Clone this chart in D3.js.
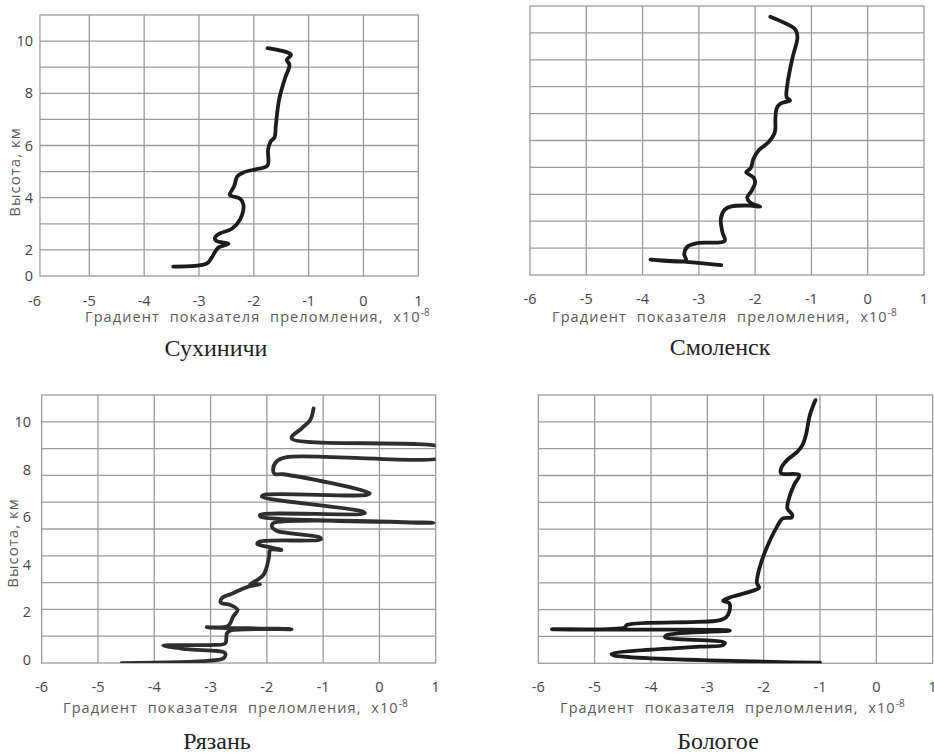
<!DOCTYPE html>
<html>
<head>
<meta charset="utf-8">
<script src="https://cdn.jsdelivr.net/npm/d3@7"></script>
<style>
  body { margin: 0; background: #fff; }
  svg { display: block; }
  .tick { font-family: 'Open Sans', sans-serif; font-size: 14.5px; fill: #454545; }
  .title { font-family: 'Open Sans', sans-serif; font-size: 14.5px; fill: #5a5a5a; letter-spacing: 1.1px; }
  .ytitle { font-family: 'Open Sans', sans-serif; font-size: 15px; fill: #5a5a5a; letter-spacing: 1px; }
  .caption { font-family: 'Liberation Serif', 'Times New Roman', serif; font-size: 24px; fill: #222; }
</style>
</head>
<body>
<svg width="934" height="754"></svg>
<script>
// x ticks, same on all four panels
const xTicks = [-6, -5, -4, -3, -2, -1, 0, 1]

// y tick labels (left column only)
const yTicksTop = [1, 2, 4, 6, 8, 10]
const yLabelsTop = ['0', '2', '4', '6', '8', '10']
const yTicksBottom = [0, 2, 4, 6, 8, 10]
const yLabelsBottom = ['0', '2', '4', '6', '8', '10']

// Сухиничи
const sukhGrad = [-3.47, -2.86, -2.77, -2.65, -2.46, -2.68, -2.71, -2.62, -2.40, -2.25, -2.19, -2.25, -2.40, -2.44, -2.36,
  -2.30, -2.19, -1.94, -1.75, -1.74, -1.69, -1.62, -1.60, -1.54, -1.44, -1.35, -1.40, -1.32, -1.38, -1.75]
const sukhHeight = [1.36, 1.48, 1.70, 2.08, 2.24, 2.34, 2.46, 2.63, 2.81, 3.17, 3.74, 3.96, 4.06, 4.11, 4.44,
  4.82, 4.97, 5.10, 5.23, 5.84, 6.16, 6.32, 6.73, 7.75, 8.52, 9.09, 9.28, 9.47, 9.56, 9.73]

// Смоленск
const smolGrad = [-2.60, -3.23, -3.86, -3.23, -3.26, -3.20, -3.02, -2.54, -2.58, -2.61, -2.54, -2.42, -2.09, -1.91, -2.09,
  -2.14, -2.06, -2.00, -2.03, -2.16, -2.08, -2.03, -1.94, -1.76, -1.65, -1.64, -1.62, -1.55, -1.38, -1.44,
  -1.43, -1.34, -1.25, -1.26, -1.30, -1.73]
const smolHeight = [1.37, 1.49, 1.57, 1.54, 1.78, 2.06, 2.19, 2.27, 2.58, 3.08, 3.43, 3.55, 3.58, 3.54, 3.70,
  3.89, 4.14, 4.45, 4.63, 4.82, 4.97, 5.32, 5.63, 5.94, 6.31, 6.81, 7.18, 7.37, 7.49, 7.61,
  8.05, 9.04, 9.79, 10.01, 10.16, 10.60]

// Рязань
const ryazGrad = [-4.58, -3.01, -2.77, -2.74, -3.42, -3.84, -2.95, -2.74, -2.71, -2.65, -1.56, -3.07, -2.71, -2.65, -2.60,
  -2.52, -2.65, -2.82, -2.80, -2.60, -2.33, -2.12, -2.30, -2.15, -2.06, -2.00, -1.96, -1.94, -1.74, -2.00,
  -2.17, -2.12, -1.04, -1.06, -1.83, -1.91, -1.89, 0.96, -2.11, -2.12, -0.26, -0.29, -2.09, -2.06, -0.23,
  -0.17, -1.71, -1.86, -1.89, -1.83, -1.65, 1.20, 1.20, -1.56, -1.38, -1.23, -1.17]
const ryazHeight = [-0.14, -0.03, 0.07, 0.28, 0.45, 0.60, 0.63, 0.70, 1.12, 1.23, 1.29, 1.37, 1.40, 1.54, 1.82,
  2.10, 2.31, 2.41, 2.59, 2.80, 3.08, 3.18, 3.16, 3.39, 3.57, 3.92, 4.34, 4.62, 4.62, 4.76,
  4.87, 4.97, 5.07, 5.15, 5.43, 5.60, 5.74, 5.76, 6.02, 6.09, 6.16, 6.23, 6.86, 6.93, 6.93,
  7.00, 7.80, 7.81, 7.98, 8.33, 8.52, 8.55, 8.87, 9.31, 9.73, 10.08, 10.57]

// Бологое
const bologGrad = [-1.00, -4.67, -4.70, -3.13, -2.72, -2.69, -3.75, -3.72, -2.60, -5.76, -4.46, -4.43, -2.82, -2.67, -2.61,
  -2.61, -2.72, -2.56, -2.20, -2.08, -2.12, -2.11, -2.02, -1.90, -1.78, -1.66, -1.51, -1.49, -1.58, -1.55,
  -1.46, -1.37, -1.69, -1.69, -1.58, -1.40, -1.31, -1.25, -1.18, -1.08]
const bologHeight = [1.02, 1.30, 1.35, 1.62, 1.68, 1.77, 1.97, 2.05, 2.22, 2.27, 2.34, 2.43, 2.59, 2.71, 2.92,
  3.24, 3.33, 3.48, 3.70, 3.82, 3.98, 4.23, 4.91, 5.53, 6.03, 6.40, 6.43, 6.53, 6.78, 7.15,
  7.65, 8.02, 8.08, 8.27, 8.58, 8.89, 9.14, 9.51, 10.25, 10.81]

const panels = [
  { id: 'p1', name: 'Сухиничи', grad: sukhGrad, height: sukhHeight,
    x0: 34.5, x1: 418.3, boxMin: -5.9, top: 15, bottom: 276, yDomain: [1, 11],
    yTicks: yTicksTop, yLabels: yLabelsTop, yLabelX: 33, yTitle: [15, 172],
    tickY: 306, titleX: 85, titleY: 322, capX: 216, capY: 356 },
  { id: 'p2', name: 'Смоленск', grad: smolGrad, height: smolHeight,
    x0: 530, x1: 924, boxMin: -6, top: 6, bottom: 275, yDomain: [1, 11],
    yTicks: null, tickY: 304, titleX: 552, titleY: 322, capX: 720, capY: 355 },
  { id: 'p3', name: 'Рязань', grad: ryazGrad, height: ryazHeight,
    x0: 41.7, x1: 435.7, boxMin: -6, top: 395, bottom: 663, yDomain: [-0.13, 11.13],
    yTicks: yTicksBottom, yLabels: yLabelsBottom, yLabelX: 31, yTitle: [12.5, 543],
    tickY: 692, titleX: 63, titleY: 713, capX: 217, capY: 749 },
  { id: 'p4', name: 'Бологое', grad: bologGrad, height: bologHeight,
    x0: 538.3, x1: 932.7, boxMin: -6, top: 395, bottom: 663.3, yDomain: [1, 11],
    yTicks: null, tickY: 692, titleX: 560, titleY: 713, capX: 718, capY: 749 }
]

const svg = d3.select('svg')
const gridColor = '#9b9b9b'

panels.forEach(p => {
  const x = d3.scaleLinear().domain([-6, 1]).range([p.x0, p.x1])
  const y = d3.scaleLinear().domain(p.yDomain).range([p.bottom, p.top])
  const g = svg.append('g')
  const left = x(p.boxMin)
  const right = x(1)

  // grid: vertical at every unit inside the box, horizontal in 10 equal rows
  const vLines = xTicks.filter(t => t > p.boxMin && t < 1)
  g.selectAll('.vg').data(vLines).enter().append('line')
    .attr('x1', d => x(d)).attr('x2', d => x(d))
    .attr('y1', p.top).attr('y2', p.bottom)
    .attr('stroke', gridColor).attr('stroke-width', 1.3)
  const [lo, hi] = p.yDomain
  const hLines = d3.range(1, 10).map(i => lo + i * (hi - lo) / 10)
  g.selectAll('.hg').data(hLines).enter().append('line')
    .attr('x1', left).attr('x2', right)
    .attr('y1', d => y(d)).attr('y2', d => y(d))
    .attr('stroke', gridColor).attr('stroke-width', 1.3)
  g.append('rect')
    .attr('x', left).attr('y', p.top)
    .attr('width', right - left).attr('height', p.bottom - p.top)
    .attr('fill', 'none').attr('stroke', gridColor).attr('stroke-width', 1.3)

  // curve
  svg.append('clipPath').attr('id', 'clip-' + p.id)
    .append('rect').attr('x', left).attr('y', p.top)
    .attr('width', right - left).attr('height', p.bottom - p.top)
  const pts = p.grad.map((v, i) => [v, p.height[i]])
  const line = d3.line()
    .x(d => x(d[0])).y(d => y(d[1]))
    .curve(d3.curveCatmullRom.alpha(0.5))
  g.append('path')
    .attr('d', line(pts))
    .attr('clip-path', 'url(#clip-' + p.id + ')')
    .attr('fill', 'none')
    .attr('stroke', p.id === 'p3' ? '#2e2e2e' : '#1c1c1c')
    .attr('stroke-width', 3.8)
    .attr('stroke-linejoin', 'round')
    .attr('stroke-linecap', 'round')

  // x tick labels
  g.selectAll('.xt').data(xTicks).enter().append('text')
    .attr('class', 'tick')
    .attr('x', d => x(d)).attr('y', p.tickY)
    .attr('text-anchor', 'middle')
    .text(d => d)

  // x title
  const t = g.append('text').attr('class', 'title')
    .attr('x', p.titleX).attr('y', p.titleY)
    .attr('xml:space', 'preserve')
  t.append('tspan').text('Градиент  показателя  преломления,  x10')
  t.append('tspan').attr('dy', -6).attr('font-size', 10).attr('letter-spacing', 0).text('-8')

  // y labels + title
  if (p.yTicks) {
    g.selectAll('.yt').data(p.yTicks).enter().append('text')
      .attr('class', 'tick')
      .attr('x', p.yLabelX).attr('y', d => y(d))
      .attr('dy', '0.35em')
      .attr('text-anchor', 'end')
      .text((d, i) => p.yLabels[i])
    g.append('text').attr('class', 'ytitle')
      .attr('transform', `translate(${p.yTitle[0]},${p.yTitle[1]}) rotate(-90)`)
      .attr('text-anchor', 'middle')
      .attr('dy', '0.35em')
      .text('Высота, км')
  }

  // caption
  g.append('text').attr('class', 'caption')
    .attr('x', p.capX).attr('y', p.capY)
    .attr('text-anchor', 'middle')
    .text(p.name)
})
</script>
</body>
</html>
